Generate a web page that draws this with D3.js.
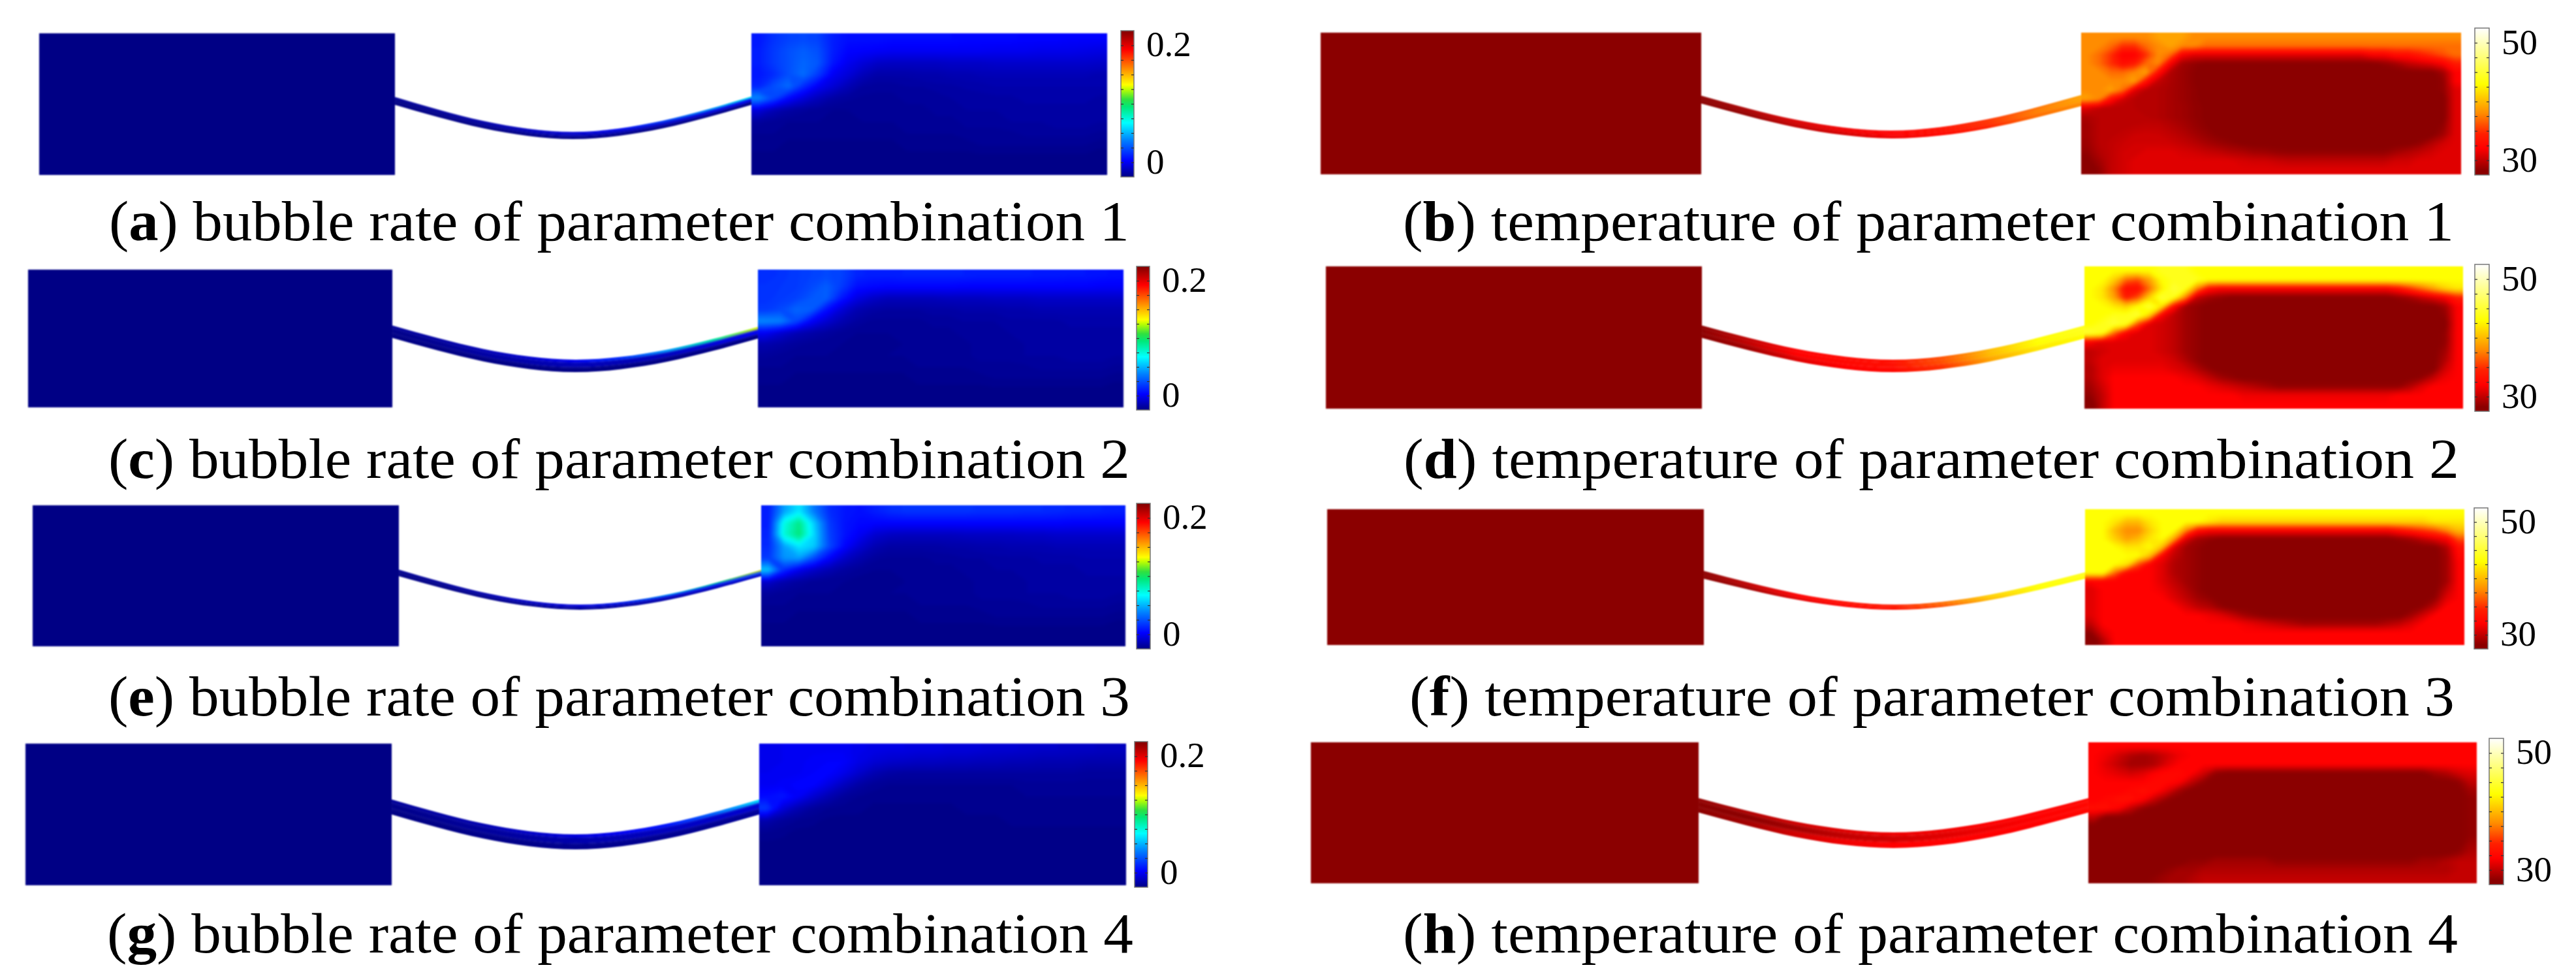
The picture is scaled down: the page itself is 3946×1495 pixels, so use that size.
<!DOCTYPE html>
<html><head><meta charset="utf-8">
<script src="https://cdn.jsdelivr.net/npm/d3@7"></script>
<style>html,body{margin:0;background:#fff}svg{display:block}text{font-family:"Liberation Serif",serif;fill:#000}</style>
</head><body><svg id="c" width="3946" height="1495"></svg>
<script>
// ---------- DATA ----------
const captions = ["bubble rate of parameter combination 1","temperature of parameter combination 1","bubble rate of parameter combination 2","temperature of parameter combination 2","bubble rate of parameter combination 3","temperature of parameter combination 3","bubble rate of parameter combination 4","temperature of parameter combination 4"];
const letters = ["a","b","c","d","e","f","g","h"];
const bubbleTicks = [0,0.025,0.05,0.075,0.1,0.125,0.15,0.175,0.2];
const bubbleLabels = [0,0.2];
const tempTicks = [30,32.5,35,37.5,40,42.5,45,47.5,50];
const tempLabels = [30,50];
const bubbleStopsAt = [0,0.11,0.25,0.37,0.48,0.53,0.60,0.63,0.75,0.87,1];
const bubbleStopColors = ["#000085","#0000ff","#0080ff","#00ffff","#00e878","#30e040","#c0ff00","#ffff00","#ff8000","#ff0000","#800000"];
const tempStopsAt = [0,0.03,0.18,0.28,0.42,0.62,0.72,1];
const tempStopColors = ["#8b0000","#8b0000","#ff0000","#ff2000","#ff8c00","#ffff00","#ffff40","#ffffff"];
const channelSag = [0,0.37,0.69,0.91,1,0.91,0.69,0.37,0];

// Lower rows shared by bubble fields (thousandths)
const bubbleLowerRows = [
[-20,-21,-22,-22,-22,-23,-23,-22,-22,-22,-22,-21,-21,-21,-20,-20,-20,-19,-19,-19,-18,-18,-18,-19],
[-22,-22,-23,-23,-23,-23,-23,-23,-23,-23,-22,-22,-22,-22,-21,-21,-21,-21,-20,-20,-20,-20,-20,-21],
[-23,-23,-24,-24,-24,-24,-24,-24,-24,-24,-23,-23,-23,-23,-23,-22,-22,-22,-22,-22,-22,-22,-22,-23],
[-24,-24,-24,-25,-25,-25,-25,-25,-25,-24,-24,-24,-24,-24,-24,-24,-24,-24,-24,-24,-24,-24,-24,-25],
[-25,-25,-25,-25,-25,-25,-25,-25,-25,-25,-25,-25,-25,-25,-25,-25,-25,-25,-25,-25,-25,-25,-25,-25]];
const fieldA = [
[8,16,20,22,20,10,6,6,6,5,5,5,5,5,4,4,4,4,3,3,3,2,2,2],
[10,18,24,28,24,10,3,2,1,0,0,0,0,0,0,0,-1,-1,-1,-2,-2,-2,-3,-4],
[10,18,24,30,26,8,-1,-6,-10,-11,-11,-11,-11,-10,-10,-10,-9,-9,-9,-9,-9,-9,-9,-10],
[8,14,24,32,18,0,-6,-13,-17,-17,-17,-16,-16,-15,-15,-14,-14,-14,-14,-14,-14,-14,-14,-15],
[12,24,32,14,0,-7,-14,-19,-20,-20,-19,-19,-18,-18,-17,-17,-16,-16,-16,-16,-16,-16,-16,-16],
[40,22,4,-6,-13,-18,-20,-21,-21,-21,-20,-20,-20,-19,-19,-18,-18,-18,-17,-17,-17,-17,-17,-18],
[-6,-14,-18,-20,-21,-22,-22,-22,-22,-21,-21,-21,-20,-20,-19,-19,-19,-18,-18,-18,-18,-18,-18,-18],
...bubbleLowerRows];
const fieldC = [
[14,16,18,20,22,20,12,10,10,11,11,11,11,11,10,10,10,10,9,9,8,8,7,6],
[16,17,18,22,28,18,6,4,3,3,3,3,3,2,2,2,2,2,2,2,2,2,1,1],
[16,18,20,26,28,8,-4,-10,-13,-13,-13,-13,-12,-12,-12,-11,-11,-11,-10,-10,-10,-10,-10,-10],
[18,22,30,28,6,-7,-15,-18,-19,-19,-19,-18,-18,-17,-17,-17,-16,-16,-15,-15,-15,-15,-15,-15],
[40,38,22,2,-8,-15,-19,-21,-21,-21,-21,-20,-20,-19,-19,-19,-18,-18,-18,-18,-17,-17,-17,-17],
[0,-8,-14,-17,-19,-21,-22,-22,-22,-22,-21,-21,-21,-20,-20,-20,-19,-19,-19,-18,-18,-18,-18,-18],
[-16,-18,-20,-21,-22,-22,-23,-23,-23,-22,-22,-22,-21,-21,-20,-20,-20,-19,-19,-19,-18,-18,-18,-18],
...bubbleLowerRows];
const fieldE = [
[10,45,62,35,14,8,6,10,14,16,16,16,16,16,15,15,15,14,14,13,12,12,11,10],
[10,72,92,55,18,7,4,3,3,3,3,3,3,3,3,3,3,3,3,3,2,2,2,2],
[12,75,95,58,20,7,0,-8,-11,-12,-12,-12,-12,-11,-11,-11,-11,-10,-10,-9,-9,-9,-9,-9],
[14,45,62,55,22,3,-8,-15,-18,-18,-18,-18,-17,-17,-16,-16,-15,-15,-15,-14,-14,-14,-14,-14],
[18,42,45,22,2,-10,-16,-20,-21,-21,-21,-20,-20,-19,-19,-18,-18,-18,-17,-17,-17,-16,-16,-16],
[55,14,-2,-10,-15,-19,-21,-22,-22,-22,-21,-21,-21,-20,-20,-19,-19,-19,-18,-18,-18,-17,-17,-17],
[-10,-16,-19,-21,-22,-22,-23,-23,-23,-22,-22,-22,-21,-21,-20,-20,-20,-19,-19,-19,-18,-18,-18,-18],
...bubbleLowerRows];
const fieldG = [
[-2,-1,0,0,0,0,-2,-3,-4,-4,-5,-5,-6,-6,-7,-8,-8,-9,-10,-10,-11,-11,-12,-12],
[-2,-1,0,1,2,2,-3,-7,-9,-10,-11,-11,-12,-12,-13,-13,-14,-14,-15,-15,-15,-16,-16,-16],
[-1,0,0,2,3,-2,-9,-15,-18,-19,-19,-19,-19,-19,-19,-19,-19,-19,-19,-19,-19,-20,-20,-20],
[0,1,3,3,-4,-12,-18,-21,-22,-22,-22,-22,-22,-22,-22,-22,-22,-21,-21,-21,-21,-21,-21,-21],
[5,8,1,-8,-15,-20,-22,-23,-23,-23,-23,-23,-23,-23,-23,-23,-23,-22,-22,-22,-22,-22,-22,-22],
[18,-6,-15,-20,-22,-23,-23,-24,-24,-24,-24,-24,-24,-23,-23,-23,-23,-23,-23,-23,-23,-23,-23,-23],
[-16,-20,-22,-23,-24,-24,-24,-24,-24,-24,-24,-24,-24,-24,-24,-24,-23,-23,-23,-23,-23,-23,-23,-23],
[-22,-23,-24,-24,-24,-24,-25,-25,-25,-25,-24,-24,-24,-24,-24,-24,-24,-24,-24,-24,-24,-24,-24,-24],
[-24,-24,-24,-25,-25,-25,-25,-25,-25,-25,-25,-25,-25,-25,-25,-25,-24,-24,-24,-24,-24,-24,-24,-24],
[-25,-25,-25,-25,-25,-25,-25,-25,-25,-25,-25,-25,-25,-25,-25,-25,-25,-25,-25,-25,-25,-25,-25,-25],
[-25,-25,-25,-25,-25,-25,-25,-25,-25,-25,-25,-25,-25,-25,-25,-25,-25,-25,-25,-25,-25,-25,-25,-25],
[-25,-25,-25,-25,-25,-25,-25,-25,-25,-25,-25,-25,-25,-25,-25,-25,-25,-25,-25,-25,-25,-25,-25,-25]];

const fieldB = [
[38,38,38,38,38,38,39,39,39,38,38,38,38,38,38,38,38,38,38,38,38,38,38,38,38,38,38,38,38,38,38,38],
[38,38,37,35,35,37,38,39,38,38,37,37,37,37,37,37,37,37,37,37,37,37,37,37,37,37,37,37,37,37,37,37],
[38,37,35,32,32,35,38,37,32,31,31,31,31,31,31,31,31,31,31,31,31,31,31,31,32,32,33,33,34,35,36,37],
[38,37,35,33,34,37,38,32,29,28.5,28,28,28,28,28,28,28,28,28,28,28,28,28,28,28,28.5,29,30,30.5,31,32,34],
[38,38,37,37,38,39,33,29.5,28.8,28.3,28,28,28,28,28,28,28,28,28,28,28,28,28,28,28,28,28,28,28,28,29,32],
[38,38,38,38,39,33,30,29.3,28.8,28.3,28,28,28,28,28,28,28,28,28,28,28,28,28,28,28,28,28,28,28,28,28.5,32],
[38,38,39,37,31,29.7,29.5,29.2,28.8,28.4,28,28,28,28,28,28,28,28,28,28,28,28,28,28,28,28,28,28,28,28,28.5,31],
[39,38,33,30.5,29.7,29.6,29.5,29.2,28.8,28.4,28.1,28,28,28,28,28,28,28,28,28,28,28,28,28,28,28,28,28,28,28,28,31],
[31,30,29.7,29.7,29.7,29.6,29.5,29.2,28.9,28.5,28.2,28,28,28,28,28,28,28,28,28,28,28,28,28,28,28,28,28,28,28,28,31],
[29.3,29.7,29.7,29.7,29.7,29.7,29.5,29.2,28.9,28.5,28.2,28,28,28,28,28,28,28,28,28,28,28,28,28,28,28,28,28,28,28,28,31],
[29,29.7,29.7,29.8,29.9,30,30,29.6,29.2,28.7,28.3,28,28,28,28,28,28,28,28,28,28,28,28,28,28,28,28,28,28,28,28.5,31],
[29,29.7,29.8,30,30.3,30.4,30.3,30,29.6,29.1,28.6,28.2,28,28,28,28,28,28,28,28,28,28,28,28,28,28,28,28,28,28,29,31],
[28.8,29.7,30,30.3,30.5,30.5,30.5,30.4,30.1,29.7,29.2,28.8,28.5,28.2,28,28,28,28,28,28,28,28,28,28,28,28,28,28,28.5,29.5,30.5,31],
[28.5,29.5,30,30.5,30.5,31,31,31,30.7,30.5,30.2,30,29.6,29.4,29,28.9,28.6,28.5,28.5,28.5,28.5,28.5,28.5,28.5,28.5,28.5,29,29.5,30,30.5,31,31],
[28,29,30,30.5,31,31,31,31,31,31,31,31,31,30.7,30.5,30.5,30.2,30,30,30,30,30,30,30,30,30,30.5,30.5,31,31,31,31],
[27.5,28.5,30,30.5,31,31,31,31,31,31,31,31,31,31,31,31,31,31,31,31,31,31,31,31,31,31,31,31,31,31,31,31]];
const fieldD = [
[43,43,43,43,43,43,44,44,44,43,43,43,43,43,43,43,43,43,43,43,43,43,43,43,43,43,43,43,43,43,43,43],
[43,43,41,37,36,39,43,44,44,44,43,43,43,43,43,43,43,43,43,43,43,43,43,43,43,43,43,43,43,43,43,43],
[43,42,38,33,33,37,42,45,44,38,33,32,32,32,32,32,32,32,32,32,32,32,32,32,32,32,33,35,37,39,41,42],
[43,42,39,34,36,41,45,44,38,30,29,28.5,28,28,28,28,28,28,28,28,28,28,28,28,28,28,28.5,29,30,31,32,34],
[43,43,42,41,43,45,42,33,29,28.5,28,28,28,28,28,28,28,28,28,28,28,28,28,28,28,28,28,28,28,28,29,32],
[43,43,44,44,45,41,32,30,29,28.5,28,28,28,28,28,28,28,28,28,28,28,28,28,28,28,28,28,28,28,28,28.5,32],
[43,44,45,44,36,31,30.5,30,29,28.5,28,28,28,28,28,28,28,28,28,28,28,28,28,28,28,28,28,28,28,28,28,32],
[45,44,37,32,31,31,30.5,30,29,28.5,28,28,28,28,28,28,28,28,28,28,28,28,28,28,28,28,28,28,28,28,28.5,32],
[32,31,31,31,31,31,30.5,30,29,28.5,28,28,28,28,28,28,28,28,28,28,28,28,28,28,28,28,28,28,28,28,28.5,32],
[30,30.5,31,31,31,31,30.5,30,29,28.5,28,28,28,28,28,28,28,28,28,28,28,28,28,28,28,28,28,28,28,28,29,32],
[30,31,31,31,31,31,31,30.5,29.5,28.5,28,28,28,28,28,28,28,28,28,28,28,28,28,28,28,28,28,28,28,28,29.5,32],
[29.5,31,31.5,31.5,31.5,31.5,31.5,31,30.5,29.5,28.5,28,28,28,28,28,28,28,28,28,28,28,28,28,28,28,28,28,28,28,30.5,32],
[29.5,31,32,32,32,32,32,32,31.5,31,30,29,28.5,28,28,28,28,28,28,28,28,28,28,28,28,28,28,28,28.5,30,31.5,32],
[29,30.5,32,32,32,32,32,32,32,32,31.5,31,30.5,30,29.5,29,28.5,28.5,28.5,28.5,28.5,28.5,28.5,28.5,28.5,28.5,28.5,29.5,31,32,32,32],
[28.5,30,32,32,32,32,32,32,32,32,32,32,32,31.5,31.5,31.5,31.5,31.5,31.5,31.5,31.5,31.5,31.5,31.5,31.5,31.5,32,32,32,32,32,32],
[27.5,30,32,32,32,32,32,32,32,32,32,32,32,32,32,32,32,32,32,32,32,32,32,32,32,32,32,32,32,32,32,32]];
const fieldF = [
[43,43,43,43,43,43,43,43,43,43,43,43,43,43,43,43,43,43,43,43,43,43,43,43,43,43,43,43,43,43,43,43],
[43,43,42,40,40,42,43,43,43,43,42,41,41,41,41,41,41,41,41,41,41,41,41,41,41,41,41,41,41,42,42,42],
[43,43,40,38,38,41,43,43,38,33,32,32,32,32,32,32,32,32,32,32,32,32,32,32,32,32,33,34,35,36,38,40],
[43,43,41,39,40,42,43,39,31,29,28.5,28,28,28,28,28,28,28,28,28,28,28,28,28,28,28,28.5,29,30,31,32,36],
[43,43,43,42,42,43,40,31,29,28.5,28,28,28,28,28,28,28,28,28,28,28,28,28,28,28,28,28,28,28,28,29.5,33],
[43,43,43,43,43,40,32,30,29,28.5,28,28,28,28,28,28,28,28,28,28,28,28,28,28,28,28,28,28,28,28,29,32.5],
[43,43,43,42,36,32,31,29.5,29,28.5,28,28,28,28,28,28,28,28,28,28,28,28,28,28,28,28,28,28,28,28,29,32],
[43,43,37,32.5,32,32,31,29.5,29,28.5,28,28,28,28,28,28,28,28,28,28,28,28,28,28,28,28,28,28,28,28,29,32],
[32,32,32,32,32,32,31,30,29,28.5,28,28,28,28,28,28,28,28,28,28,28,28,28,28,28,28,28,28,28,28,29,32],
[31,32,32,32,32,32,31.5,30.5,29.5,28.5,28,28,28,28,28,28,28,28,28,28,28,28,28,28,28,28,28,28,28,28,30,32],
[31,32,32,32,32,32,32,31,30,29,28.5,28,28,28,28,28,28,28,28,28,28,28,28,28,28,28,28,28,28,28.5,31,32],
[31,32,32,32,32,32,32,32,31,30,29.5,28.5,28,28,28,28,28,28,28,28,28,28,28,28,28,28,28,28,28.5,30,32,32],
[31,32,32,32,32,32,32,32,32,32,31.5,31,30,29,28.5,28,28,28,28,28,28,28,28,28,28,28,28,29,30.5,32,32,32],
[30,32,32,32,32,32,32,32,32,32,32,32,32,31.5,31,30.5,30,29.5,29,29,29,29,29,29,29,29.5,30,31,32,32,32,32],
[28.5,31,32,32,32,32,32,32,32,32,32,32,32,32,32,32,32,32,32,32,32,32,32,32,32,32,32,32,32,32,32,32],
[27,29.5,32,32,32,32,32,32,32,32,32,32,32,32,32,32,32,32,32,32,32,32,32,32,32,32,32,32,32,32,32,32]];
const fieldH = [
[32,32,32,32,32,32,32,32,32,32,32,32,32,32,32,32,32,32,32,32,32,32,32,32,32,32,32,32,32,32,32,32],
[32,31.5,30.5,29.5,29,29.5,30.5,31.5,32,32,32,32,32,32,32,32,32,32,32,32,32,32,32,32,32,32,32,32,32,32,32,32],
[32,31,30,29,29,29.5,31,32,32,32,32,32,32,32,32,32,32,32,32,32,32,32,32,32,32,32,32,32,32,32,32,32],
[32,31.5,31,30.5,31,32,32.5,32.5,32,30.5,28.5,28,28,28,28,28,28,28,28,28,28,28,28,28,28,28,28,28,29,29.5,30.5,31],
[32,32,32,32,32,32.5,32.5,32,30,28.5,28,28,28,28,28,28,28,28,28,28,28,28,28,28,28,28,28,28,28,28,28.5,30],
[32,32,32,32.5,33,32.5,31,29,28,28,28,28,28,28,28,28,28,28,28,28,28,28,28,28,28,28,28,28,28,28,28,29],
[32,32.5,33,33,32,30,28.5,28,28,28,28,28,28,28,28,28,28,28,28,28,28,28,28,28,28,28,28,28,28,28,28,28.5],
[33,33,32,30,28.5,28,28,28,28,28,28,28,28,28,28,28,28,28,28,28,28,28,28,28,28,28,28,28,28,28,28,28.5],
[30,28,28,28,28,28,28,28,28,28,28,28,28,28,28,28,28,28,28,28,28,28,28,28,28,28,28,28,28,28,28,28.5],
[28,28,28,28,28,28,28,28,28,28,28,28,28,28,28,28,28,28,28,28,28,28,28,28,28,28,28,28,28,28,28,28.5],
[28,28,28,28,28,28,28,28,28,28,28,28,28,28,28,28,28,28,28,28,28,28,28,28,28,28,28,28,28,28,28,28.5],
[28,28,28,28,28,28,28,28,28,28,28,28,28,28,28,28,28,28,28,28,28,28,28,28,28,28,28,28,28,28,28,29],
[28,28,28,28,28,28,28,28,28,28,28,28,28,28,28,28,28,28,28,28,28,28,28,28,28,28,28,28,28,28,28.5,29.5],
[28,28,28,28,28,28,28,28,28.5,28.5,29,29,29,29,29,28.5,28.5,28.5,28.5,28.5,28.5,28.5,28.5,28.5,28.5,28.5,28.5,29,29,29.5,30,30],
[28,28,28,28,28,28,28.5,29,29,29.5,29.5,29.5,29.5,29.5,29.5,29.5,29.5,29.5,29.5,29.5,29.5,29.5,29.5,29.5,29.5,29.5,29.5,29.5,29.5,29.5,30,30],
[28,28,28,28,28,28.5,29,29,29.5,30,30,30,30,30,30,30,30,30,30,30,30,30,30,30,30,30,30,30,30,30,30,30]];
const fields = [fieldA,fieldB,fieldC,fieldD,fieldE,fieldF,fieldG,fieldH];

// Channel values along the tube, 9 stations from inlet to outlet; lanes: upper, middle, lower
const laneFractions = [-0.6,0.22,0.62,1.6];
const channelValues = [
 [[-20,-18,-15,-10,-5,5,20,45,70],[-25,-23,-20,-16,-12,-12,-10,-5,0],[-25,-25,-25,-25,-25,-25,-25,-25,-25]],
 [[28,29.5,31,31.5,32,33,35,37,39],[27.5,29,30.5,31.5,32,33,35,37.5,39],[27.5,28.5,30,30.5,31.5,32.5,34.5,37,38]],
 [[-20,-18,-14,-8,0,15,45,85,130],[-24,-22,-18,-16,-14,-14,-12,-6,0],[-25,-25,-25,-25,-25,-25,-25,-25,-25]],
 [[28,30,32,32.5,33,36,40,43,44],[28,30,32,32.5,33,36,40,43,44],[27.5,29,31,32,32.5,35,39,42,43]],
 [[-20,-18,-14,-8,0,15,50,90,135],[-25,-23,-18,-14,-12,-10,-5,5,25],[-25,-25,-24,-23,-22,-20,-18,-15,-10]],
 [[28,30,32,33,34,37,41,43,44],[28,30,32,33,34,37,41,43,44],[27.5,29,31,32,33,36,40,43,43]],
 [[-20,-18,-15,-10,-5,0,8,30,60],[-24,-22,-20,-18,-16,-14,-12,-10,-8],[-25,-25,-24,-24,-23,-23,-22,-22,-20]],
 [[28.5,29.5,30.5,31,31.5,31.5,32,32,32.5],[27.5,28,29,30,30.5,31,31.5,32,32.5],[28,29,30.5,31.5,32,32,32,32,32.5]]
];
const leftChamberValues = [-25,27.5,-25,27.5,-25,27.5,-25,27.5];

// ---------- LAYOUT ----------
const layout = [
 {l:[60,605],r:[1151,1696],y:[51,268],bar:[1717,1737,47,271],end0:[148,160],end1:[147,160],mid:[202,213],cap:[167,1730,368]},
 {l:[2023,2606],r:[3188,3770],y:[50,267],bar:[3791,3813,43,268],end0:[146,158],end1:[145,162],mid:[200,212],cap:[2149,3759,368]},
 {l:[43,601],r:[1161,1721],y:[413,624],bar:[1741,1761,408,628],end0:[498,517],end1:[500,518],mid:[551,570],cap:[166,1731,732]},
 {l:[2031,2607],r:[3193,3773],y:[408,626],bar:[3791,3813,405,630],end0:[498,517],end1:[498,518],mid:[551,570],cap:[2150,3767,732]},
 {l:[50,611],r:[1166,1724],y:[774,990],bar:[1741,1762,771,994],end0:[872,882],end1:[872,882],mid:[926,934],cap:[166,1731,1096]},
 {l:[2033,2610],r:[3194,3775],y:[780,988],bar:[3790,3811,778,994],end0:[874,886],end1:[876,886],mid:[926,934],cap:[2159,3760,1096]},
 {l:[39,600],r:[1163,1725],y:[1139,1356],bar:[1738,1758,1136,1359],end0:[1224,1247],end1:[1224,1247],mid:[1278,1301],cap:[164,1736,1459]},
 {l:[2008,2602],r:[3199,3794],y:[1137,1353],bar:[3813,3835,1131,1355],end0:[1222,1244],end1:[1222,1244],mid:[1275,1299],cap:[2149,3765,1459]}
];

// ---------- SCALES ----------
const bubbleColor = d3.scaleLinear().domain(bubbleStopsAt.map(t=>-25+250*t)).range(bubbleStopColors).clamp(true);
const tempColor = d3.scaleLinear().domain(tempStopsAt.map(t=>27.5+25*t)).range(tempStopColors).clamp(true);

const svg = d3.select("#c");
svg.append("rect").attr("width",3946).attr("height",1495).attr("fill","#fff");
const defs = svg.append("defs");
const mkBlur=(id,s)=>defs.append("filter").attr("id",id).attr("filterUnits","userSpaceOnUse")
  .attr("x",-100).attr("y",-100).attr("width",4200).attr("height",1700)
  .attr("color-interpolation-filters","sRGB").append("feGaussianBlur").attr("stdDeviation",s);
mkBlur("soft",0.9); mkBlur("smooth",2.5); mkBlur("lane",1.5);

const sigFmt = d3.format(".3~f");
layout.forEach((p,i)=>{
  const bubble = i%2===0, color = bubble?bubbleColor:tempColor, grid = fields[i];
  const g = svg.append("g").attr("filter","url(#soft)");

  // channel
  const xf = d3.scaleLinear().domain([0,8]).range([p.l[1]-2,p.r[0]+2]);
  const ends = k=>[p.end0[k],p.end1[k]];
  const edge = (k,s)=>{const [a,b]=ends(k); return a+(b-a)*s/8+(p.mid[k]-(a+b)/2)*channelSag[s];};
  const cy = (s,f)=>edge(0,s)+(edge(1,s)-edge(0,s))*f;
  const curve = d3.curveNatural;
  const stations = d3.range(9);
  const clipId = "ch"+i;
  defs.append("clipPath").attr("id",clipId).append("path")
    .attr("d",d3.area().x(s=>xf(s)).y0(s=>cy(s,0)).y1(s=>cy(s,1)).curve(curve)(stations));
  const cg = g.append("g").attr("clip-path",`url(#${clipId})`).append("g").attr("filter","url(#lane)");
  channelValues[i].forEach((vals,k)=>{
    const gid=`lg${i}_${k}`;
    const lg=defs.append("linearGradient").attr("id",gid).attr("gradientUnits","userSpaceOnUse")
      .attr("x1",xf(0)).attr("x2",xf(8)).attr("y1",0).attr("y2",0);
    vals.forEach((v,s)=>lg.append("stop").attr("offset",s/8).attr("stop-color",color(v)));
    cg.append("path").attr("fill",`url(#${gid})`)
      .attr("d",d3.area().x(s=>xf(s)).y0(s=>cy(s,laneFractions[k])).y1(s=>cy(s,laneFractions[k+1])).curve(curve)(stations));
  });

  // left chamber
  g.append("rect").attr("x",p.l[0]).attr("y",p.y[0]).attr("width",p.l[1]-p.l[0]).attr("height",p.y[1]-p.y[0]).attr("fill",color(leftChamberValues[i]));

  // right chamber: filled contour bands of the value grid
  const pad=3, rows=grid.length, cols=grid[0].length;
  const W=cols+2*pad, H=rows+2*pad, flat=[];
  for(let y=0;y<H;y++)for(let x=0;x<W;x++){
    flat.push(grid[Math.min(rows-1,Math.max(0,y-pad))][Math.min(cols-1,Math.max(0,x-pad))]);
  }
  const sx=d3.scaleLinear().domain([pad,cols+pad]).range(p.r);
  const sy=d3.scaleLinear().domain([pad,rows+pad]).range(p.y);
  const path=d3.geoPath(d3.geoTransform({point(x,y){this.stream.point(sx(x),sy(y));}}));
  const [lo,hi]=d3.extent(flat), step=bubble?1.5:0.2;
  const th=d3.range(lo,hi+step,step);
  const rid="rc"+i;
  defs.append("clipPath").attr("id",rid).append("rect").attr("x",p.r[0]).attr("y",p.y[0]).attr("width",p.r[1]-p.r[0]).attr("height",p.y[1]-p.y[0]);
  const rg=g.append("g").attr("clip-path",`url(#${rid})`).append("g").attr("filter","url(#smooth)");
  rg.append("rect").attr("x",p.r[0]-40).attr("y",p.y[0]-40).attr("width",p.r[1]-p.r[0]+80).attr("height",p.y[1]-p.y[0]+80).attr("fill",color(lo));
  rg.selectAll("path").data(d3.contours().size([W,H]).thresholds(th)(flat)).join("path")
    .attr("d",path).attr("fill",d=>color(d.value+step/2));

  // colour bar
  const b=p.bar, dom=bubble?[-0.025,0.225]:[27.5,52.5];
  const ys=d3.scaleLinear().domain(dom).range([b[3],b[2]]);
  const stopsAt=bubble?bubbleStopsAt:tempStopsAt, stopCols=bubble?bubbleStopColors:tempStopColors;
  const gid="bar"+i;
  const lg=defs.append("linearGradient").attr("id",gid).attr("x1",0).attr("x2",0).attr("y1",1).attr("y2",0);
  stopsAt.forEach((t,k)=>lg.append("stop").attr("offset",t).attr("stop-color",stopCols[k]));
  svg.append("rect").attr("x",b[0]).attr("y",b[2]).attr("width",b[1]-b[0]).attr("height",b[3]-b[2])
    .attr("fill",`url(#${gid})`).attr("stroke","#777").attr("stroke-width",1.5);
  const ticks=bubble?bubbleTicks:tempTicks, labels=bubble?bubbleLabels:tempLabels;
  const aR=svg.append("g").attr("transform",`translate(${b[1]},0)`)
    .call(d3.axisRight(ys).tickValues(ticks).tickSize(-4).tickPadding(19).tickFormat(v=>labels.includes(v)?sigFmt(v):""));
  aR.select(".domain").remove();
  aR.selectAll("line").attr("stroke","#333").attr("stroke-width",1.2);
  aR.selectAll("text").attr("font-size",55).attr("font-family","Liberation Serif").attr("fill","#000").attr("dy","0.3em");
  const aL=svg.append("g").attr("transform",`translate(${b[0]},0)`)
    .call(d3.axisLeft(ys).tickValues(ticks).tickSize(-4).tickFormat(""));
  aL.select(".domain").remove();
  aL.selectAll("line").attr("stroke","#333").attr("stroke-width",1.2);

  // caption
  const t=svg.append("text").attr("x",p.cap[0]).attr("y",p.cap[2]).attr("font-size",86)
    .attr("textLength",p.cap[1]-p.cap[0]).attr("lengthAdjust","spacingAndGlyphs");
  t.append("tspan").text("(");
  t.append("tspan").attr("font-weight","bold").text(letters[i]);
  t.append("tspan").text(") "+captions[i]);
});
</script></body></html>
